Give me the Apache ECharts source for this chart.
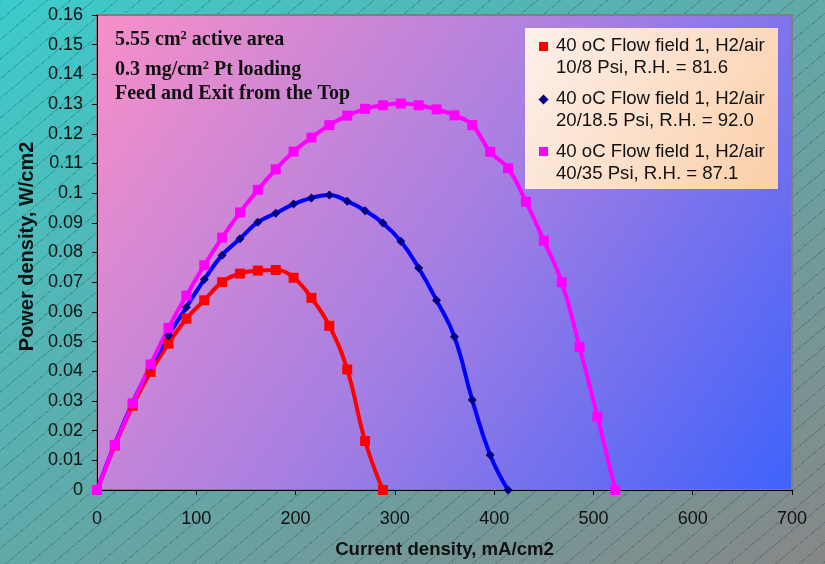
<!DOCTYPE html>
<html><head><meta charset="utf-8">
<script src="https://cdn.jsdelivr.net/npm/echarts@6/dist/echarts.min.js"></script>
<style>
html,body{margin:0;padding:0;}
#wrap{position:relative;width:825px;height:564px;background:linear-gradient(to bottom right,#3ccbcb,#878787);overflow:hidden}
#hatch{position:absolute;left:0;top:0;width:825px;height:564px;background:repeating-linear-gradient(140deg, rgba(0,50,50,0.22) 0 1px, transparent 1px 15px);}
#chart{position:absolute;left:0;top:0;width:825px;height:564px;}
</style></head>
<body>
<div id="wrap"><div id="hatch"></div><div id="chart"></div></div>
<script>
// ---- data ----
const seriesNames = [
  '40 oC Flow field 1, H2/air\n10/8 Psi, R.H. = 81.6',
  '40 oC Flow field 1, H2/air\n20/18.5 Psi, R.H. = 92.0',
  '40 oC Flow field 1, H2/air\n40/35 Psi, R.H. = 87.1'
];
const xRed = [0,18,36,54,72,90,108,126,144,162,180,198,216,234,252,270,288];
const yRed = [0,0.0150,0.0284,0.0398,0.0493,0.0577,0.0639,0.0700,0.0729,0.0739,0.0741,0.0715,0.0647,0.0553,0.0406,0.0165,0];
const xBlue = [0,18,36,54,72,90,108,126,144,162,180,198,216,234,252,270,288,306,324,342,360,378,396,414];
const yBlue = [0,0.0155,0.0295,0.0415,0.0520,0.0616,0.0709,0.0791,0.0846,0.0902,0.0932,0.0963,0.0984,0.0994,0.0973,0.0941,0.0899,0.0838,0.0748,0.0639,0.0516,0.0303,0.0118,0];
const xMag = [0,18,36,54,72,90,108,126,144,162,180,198,216,234,252,270,288,306,324,342,360,378,396,414,432,450,468,486,504,522];
const yMag = [0,0.0152,0.0292,0.0423,0.0546,0.0655,0.0757,0.0850,0.0935,0.1011,0.1080,0.1140,0.1187,0.1229,0.1261,0.1284,0.1296,0.1302,0.1296,0.1282,0.1262,0.1229,0.1139,0.1084,0.0971,0.0840,0.0700,0.0482,0.0247,0];
const xAxisTitle = 'Current density, mA/cm2';
const yAxisTitle = 'Power density, W/cm2';
const noteLines = [['5.55 cm','2',' active area'],['0.3 mg/cm','2',' Pt loading'],['Feed and Exit from the Top']];

// ---- styling ----
const SANS = '"Liberation Sans", Arial, sans-serif';
const SERIF = '"Liberation Serif", "Times New Roman", serif';
const defs = [
  {name: seriesNames[0], x: xRed, y: yRed, line: '#ff0000', mark: '#ff0000', symbol: 'rect', size: 10},
  {name: seriesNames[1], x: xBlue, y: yBlue, line: '#0000ff', mark: '#000080', symbol: 'diamond', size: 9},
  {name: seriesNames[2], x: xMag, y: yMag, line: '#ff00ff', mark: '#ff00ff', symbol: 'rect', size: 10}
];

const chart = echarts.init(document.getElementById('chart'), null, {renderer: 'canvas'});

const legendItems = [];
const legendTops = [6.5, 60, 112.5];
const markerCenters = [18.5, 71.5, 123.5];
defs.forEach((d, i) => {
  const cy = markerCenters[i];
  if (d.symbol === 'rect') {
    legendItems.push({type: 'rect', shape: {x: 14, y: cy - 4.5, width: 9, height: 9}, style: {fill: d.mark}});
  } else {
    legendItems.push({type: 'polygon', shape: {points: [[18.5, cy - 5], [23.5, cy], [18.5, cy + 5], [13.5, cy]]}, style: {fill: d.mark}});
  }
  legendItems.push({type: 'text', x: 31, y: legendTops[i], style: {text: d.name, font: '18.6px ' + SANS, fill: '#111', lineHeight: 22, verticalAlign: 'top'}});
});

const noteY = [40, 70, 95];
const noteEls = noteLines.map((parts, i) => {
  let t = '{a|' + parts[0] + '}';
  if (parts.length > 1) t += '{s|' + parts[1] + '}{a|' + parts[2] + '}';
  return {
    type: 'text', left: 115, top: noteY[i] - 11,
    style: {
      text: t,
      rich: {
        a: {fontFamily: SERIF, fontWeight: 'bold', fontSize: 20, lineHeight: 22, fill: '#111', color: '#111'},
        s: {fontFamily: SERIF, fontWeight: 'bold', fontSize: 12.5, lineHeight: 22, verticalAlign: 'top', fill: '#111', color: '#111'}
      }
    }
  };
});

const option = {
  backgroundColor: 'transparent',
  animation: false,
  grid: {
    left: 97, right: 33, top: 15, bottom: 72,
    show: true,
    borderColor: '#7f7f7f', borderWidth: 2,
    backgroundColor: new echarts.graphic.LinearGradient(0, 0, 1, 1, [
      {offset: 0, color: '#f88fc8'},
      {offset: 0.5, color: '#a67fe2'},
      {offset: 1, color: '#3e62fb'}
    ])
  },
  xAxis: {
    type: 'value', min: 0, max: 700, interval: 100,
    name: xAxisTitle, nameLocation: 'middle', nameGap: 50,
    nameTextStyle: {fontFamily: SANS, fontWeight: 'bold', fontSize: 18.6, color: '#111'},
    axisLine: {show: true, onZero: false, lineStyle: {color: '#000', width: 1}},
    axisTick: {show: true, length: 5, inside: false, lineStyle: {color: '#000'}},
    axisLabel: {fontFamily: SANS, fontSize: 18, color: '#111', margin: 20},
    splitLine: {show: false}
  },
  yAxis: {
    type: 'value', min: 0, max: 0.16, interval: 0.01,
    name: yAxisTitle, nameLocation: 'middle', nameGap: 58,
    nameTextStyle: {fontFamily: SANS, fontWeight: 'bold', fontSize: 20, color: '#111', padding: [0, 0, 0, 12]},
    axisLine: {show: true, onZero: false, lineStyle: {color: '#000', width: 1}},
    axisTick: {show: true, length: 5, inside: false, lineStyle: {color: '#000'}},
    axisLabel: {fontFamily: SANS, fontSize: 18, color: '#111', margin: 14,
      formatter: v => String(+v.toFixed(2))},
    splitLine: {show: false}
  },
  series: defs.map(d => ({
    type: 'line', name: d.name,
    data: d.x.map((v, i) => [v, d.y[i]]),
    smooth: 0.45,
    symbol: d.symbol, symbolSize: d.size, showSymbol: true,
    lineStyle: {color: d.line, width: 4},
    itemStyle: {color: d.mark},
    emphasis: {disabled: true}
  })),
  graphic: [
    {
      type: 'group', left: 525, top: 28,
      children: [
        {type: 'rect', shape: {x: 0, y: 0, width: 253, height: 161},
          style: {fill: new echarts.graphic.LinearGradient(0, 0, 1, 1, [
            {offset: 0, color: '#fdf0eb'}, {offset: 1, color: '#fbcfa8'}])}}
      ].concat(legendItems)
    }
  ].concat(noteEls)
};
chart.setOption(option);
</script>
</body></html>
